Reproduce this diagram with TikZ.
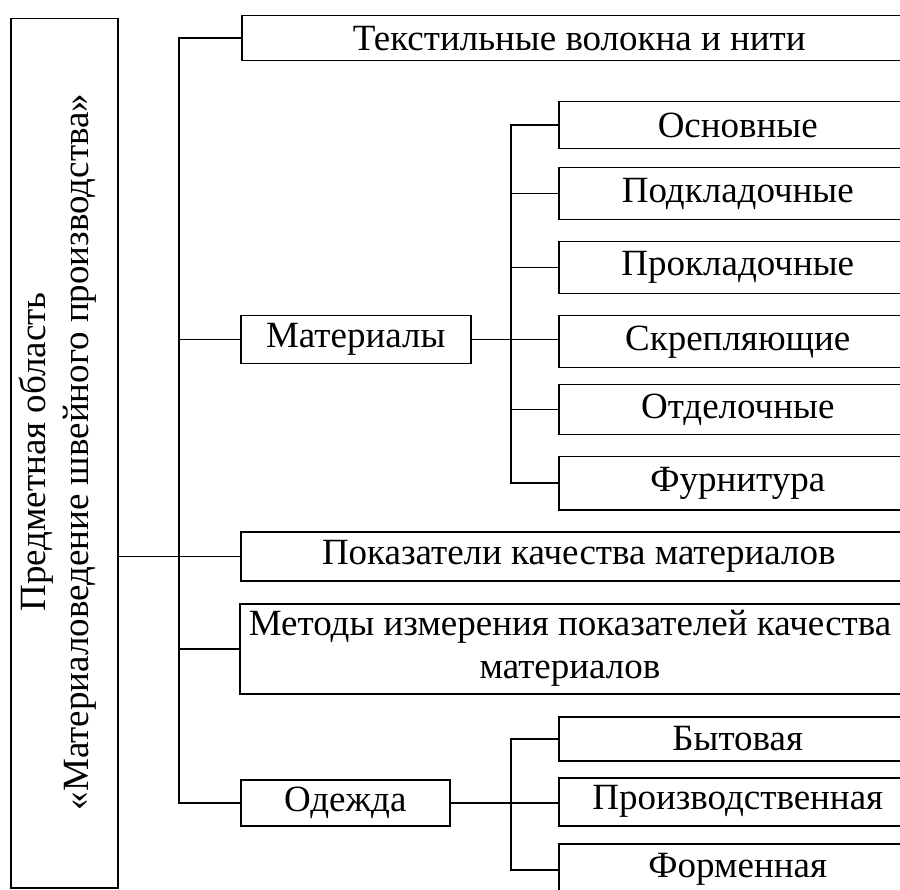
\documentclass[tikz,border=0pt]{standalone}
\usepackage{fontspec}
\setmainfont{Liberation Serif}
\begin{document}
\begin{tikzpicture}[x=1pt,y=-1pt,
  box/.style={draw, line width=1.5pt, inner sep=0pt, anchor=north west},
  txt/.style={inner sep=0pt, font=\fontsize{37}{43}\selectfont},
  ln/.style={line width=1.5pt}]
\useasboundingbox (0,0) rectangle (900,890);
\clip (0,0) rectangle (900,890);
% root
\node[box, minimum width=107pt, minimum height=869pt] (root) at (10,18) {};
\node[txt, rotate=90, align=center] (roott) at (58,452) {Предметная область\\«Материаловедение швейного производства»};
% level 1
\node[box, txt, minimum width=675pt, minimum height=45pt] (t1) at (241,15) {Текстильные волокна и нити};
\node[box, txt, minimum width=230pt, minimum height=48pt] (mat) at (240,315) {Материалы};
\node[box, txt, minimum width=676pt, minimum height=49pt] (pok) at (240,531) {Показатели качества материалов};
\node[box, minimum width=677pt, minimum height=90pt] (met) at (239,603) {};
\node[txt, align=center] (mett) at (570,648) {Методы измерения показателей качества\\материалов};
\node[box, txt, minimum width=209pt, minimum height=46pt] (od) at (240,779) {Одежда};
% materials
\node[box, txt, minimum width=358pt, minimum height=47pt] (m1) at (558,101) {Основные};
\node[box, txt, minimum width=358pt, minimum height=52pt] (m2) at (558,167) {Подкладочные};
\node[box, txt, minimum width=358pt, minimum height=52pt] (m3) at (558,241) {Прокладочные};
\node[box, txt, minimum width=358pt, minimum height=52pt] (m4) at (558,315) {Скрепляющие};
\node[box, txt, minimum width=358pt, minimum height=50pt] (m5) at (558,384) {Отделочные};
\node[box, txt, minimum width=358pt, minimum height=53pt] (m6) at (558,456) {Фурнитура};
% clothing
\node[box, txt, minimum width=358pt, minimum height=44pt] (c1) at (558,716) {Бытовая};
\node[box, txt, minimum width=358pt, minimum height=48pt] (c2) at (558,777) {Производственная};
\node[box, txt, minimum width=358pt, minimum height=52pt] (c3) at (558,843) {Форменная};
% trunks
\coordinate (tr) at (179,0);
\coordinate (s1) at (511,0);
\draw[ln] (t1.west) -- (t1.west -| tr) -- (od.west -| tr) -- (od.west);
\draw[ln] (mat.west -| tr) -- (mat.west);
\draw[ln] (met.west -| tr) -- (met.west);
\draw[ln] (root.east |- pok.west) -- (pok.west);
\draw[ln] (m1.west) -- (m1.west -| s1) -- (m6.west -| s1) -- (m6.west);
\draw[ln] (mat.east) -- (mat.east -| m4.west);
\foreach \n in {m2,m3,m5} \draw[ln] (\n.west -| s1) -- (\n.west);
\draw[ln] (c1.west) -- (c1.west -| s1) -- (c3.west -| s1) -- (c3.west);
\draw[ln] (od.east) -- (od.east -| c2.west);
\end{tikzpicture}
\end{document}
